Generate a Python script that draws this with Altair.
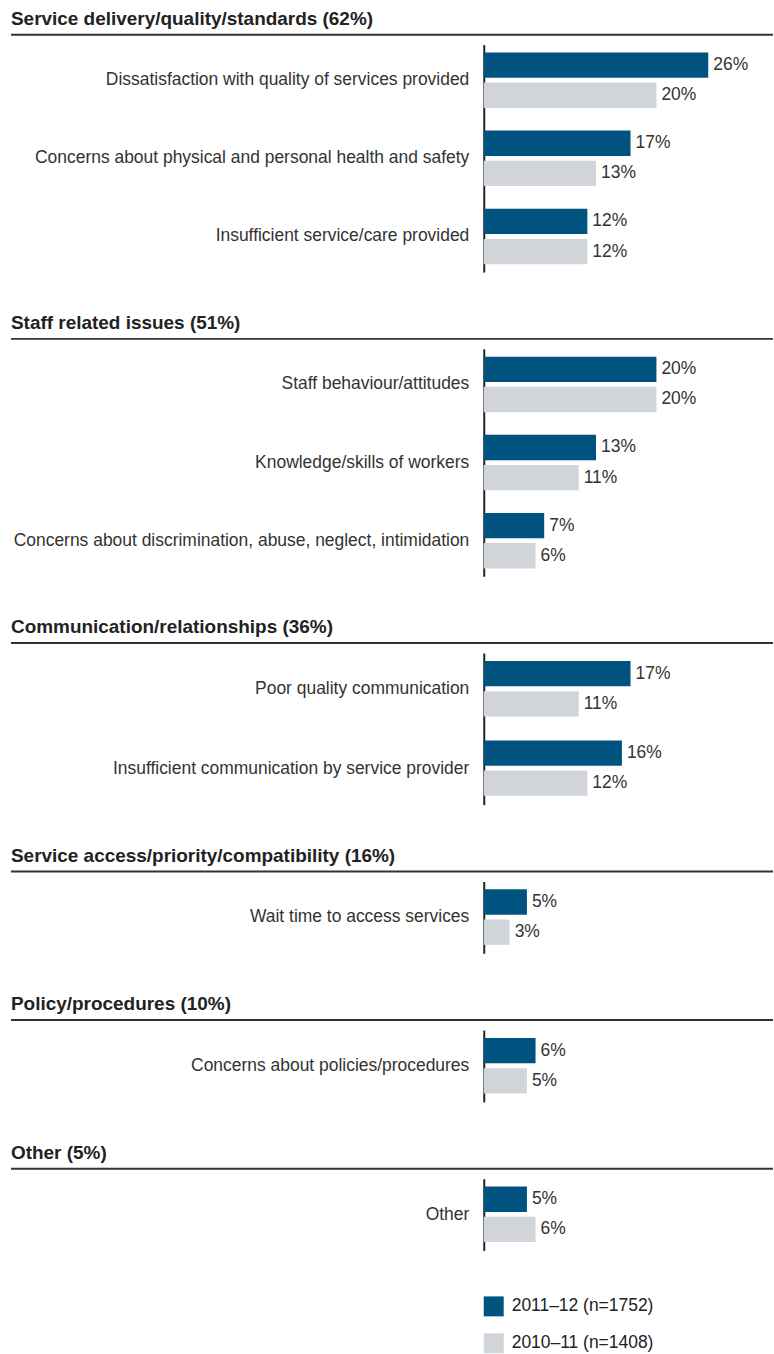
import altair as alt
import pandas as pd

FONT = "Liberation Sans"

sections = [
    "Service delivery/quality/standards (62%)",
    "Staff related issues (51%)",
    "Communication/relationships (36%)",
    "Service access/priority/compatibility (16%)",
    "Policy/procedures (10%)",
    "Other (5%)",
]
section_categories = [
    ["Dissatisfaction with quality of services provided",
     "Concerns about physical and personal health and safety",
     "Insufficient service/care provided"],
    ["Staff behaviour/attitudes",
     "Knowledge/skills of workers",
     "Concerns about discrimination, abuse, neglect, intimidation"],
    ["Poor quality communication",
     "Insufficient communication by service provider"],
    ["Wait time to access services"],
    ["Concerns about policies/procedures"],
    ["Other"],
]
series = ["2011\u201312 (n=1752)", "2010\u201311 (n=1408)"]
values_2011_12 = [26, 17, 12, 20, 13, 7, 17, 16, 5, 6, 5]
values_2010_11 = [20, 13, 12, 20, 11, 6, 11, 12, 3, 5, 6]
colors = ["#00527f", "#d1d5d9"]

rows = []
k = 0
for s, cats in zip(sections, section_categories):
    for c in cats:
        rows.append({"section": s, "category": c, "series": series[0],
                     "value": values_2011_12[k], "label": f"{values_2011_12[k]}%"})
        rows.append({"section": s, "category": c, "series": series[1],
                     "value": values_2010_11[k], "label": f"{values_2010_11[k]}%"})
        k += 1
df = pd.DataFrame(rows)

heights = {1: 72, 2: 152, 3: 228}
W = 290
LEFT = -474

color_enc = alt.Color(
    "series:N",
    scale=alt.Scale(domain=series, range=colors),
    legend=alt.Legend(
        title=None, orient="none", legendX=0, legendY=1255,
        symbolType="square", symbolSize=400, symbolStrokeWidth=0,
        symbolOpacity=1, labelFontSize=17.5, labelFont=FONT, labelColor="#222",
        labelOffset=8, rowPadding=17, padding=0, offset=0,
    ),
)

panels = []
for s, cats in zip(sections, section_categories):
    sub = df[df.section == s]
    base = alt.Chart(sub)
    y_enc = alt.Y(
        "category:N", sort=cats, title=None,
        scale=alt.Scale(paddingInner=0.29, paddingOuter=0.1),
        axis=alt.Axis(domain=True, domainColor="#222", domainWidth=2,
                      ticks=False, labelFontSize=17.5, labelFont=FONT,
                      labelColor="#333", labelPadding=15, labelLimit=470,
                      grid=False),
    )
    yoff = alt.YOffset("series:N", sort=series,
                       scale=alt.Scale(paddingInner=0.16, paddingOuter=0))
    x_enc = alt.X("value:Q", scale=alt.Scale(domain=[0, 33.5]), axis=None)

    bars = base.mark_bar().encode(y=y_enc, yOffset=yoff, x=x_enc, color=color_enc)
    labels = base.mark_text(align="left", baseline="middle", dx=5,
                            fontSize=17.5, font=FONT, color="#333").encode(
        y=y_enc, yOffset=yoff, x=x_enc, text="label:N")

    head = alt.Chart(pd.DataFrame({"t": [s]}))
    rule = head.mark_rule(color="#333", strokeWidth=2).encode(
        x=alt.value(LEFT), x2=alt.value(W), y=alt.value(-10))
    title = head.mark_text(align="left", baseline="alphabetic", fontSize=19,
                           font=FONT, fontWeight="bold", color="#222").encode(
        x=alt.value(LEFT), y=alt.value(-20), text="t:N")

    panel = alt.layer(rule, title, bars, labels).properties(
        width=W, height=heights[len(cats)])
    panels.append(panel)

chart = alt.vconcat(*panels, spacing=77, bounds="flush").configure_view(
    strokeWidth=0).properties(
    padding={"left": 10, "top": 8, "right": 0, "bottom": 0})

chart.save("out.html", embed_options={"renderer": "svg", "actions": False})
